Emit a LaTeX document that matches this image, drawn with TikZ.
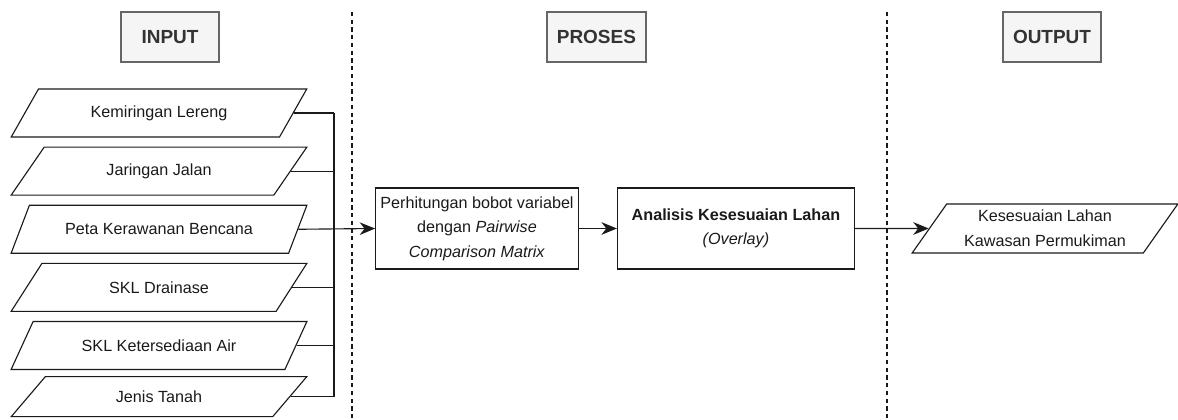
\documentclass[tikz,border=0pt]{standalone}
\usepackage{fontspec}
\setmainfont{Liberation Sans}
\usetikzlibrary{shapes.geometric, arrows.meta, positioning, calc}
\definecolor{HeadFill}{RGB}{245, 245, 245}
\definecolor{HeadLine}{RGB}{102, 102, 102}
\definecolor{HeadText}{RGB}{51, 51, 51}
\definecolor{InkDark}{RGB}{26, 26, 26}

\begin{document}
\begin{tikzpicture}[
        header/.style={rectangle, minimum width=2.45cm, minimum height=1.25cm, text centered, draw=HeadLine, fill=HeadFill, text=HeadText, line width=0.9pt, font=\fontsize{13.5}{16}\selectfont\bfseries},
        datain/.style={trapezium, trapezium left angle=56, trapezium right angle=124, trapezium stretches=true, minimum width=7.4cm, minimum height=1.2cm, text centered, draw=InkDark, line width=0.8pt, text=InkDark, font=\fontsize{11.5}{16.5}\selectfont},
        process/.style={rectangle, minimum height=2.025cm, align=center, draw=InkDark, line width=0.8pt, text=InkDark, font=\fontsize{11.5}{17.5}\selectfont},
        separator/.style={dash pattern=on 3pt off 2.5pt, line width=0.8pt, InkDark},
        link/.style={line width=0.8pt, InkDark},
        arrow/.style={line width=0.8pt, -{Stealth[length=11pt, width=9pt, inset=3.5pt]}, InkDark}
    ]
        \useasboundingbox (0,0) rectangle (29.45,10.475);

        % kolom
        \node (inp) [header] at (4.25,9.55) {INPUT};
        \node (pros) [header, minimum width=2.475cm] at (14.91,9.55) {PROSES};
        \node (outp) [header] at (26.3,9.55) {OUTPUT};
        \draw [separator] (8.8,10.175) -- (8.8,0);
        \draw [separator] (22.175,10.175) -- (22.175,0);

        % data input
        \node (kl) [datain] at (3.975,7.65) {Kemiringan Lereng};
        \node (jj) [datain, below=0.225cm of kl] {Jaringan Jalan};
        \node (pkb) [datain, below=0.225cm of jj] {Peta Kerawanan Bencana};
        \node (skld) [datain, below=0.225cm of pkb] {SKL Drainase};
        \node (skla) [datain, below=0.225cm of skld] {SKL Ketersediaan Air};
        \node (jt) [datain, below=0.15cm of skla, minimum height=1.0cm] {Jenis Tanah};
        \coordinate (bus) at (8.35,0);

        % proses dan output
        \node (hitung) [process, minimum width=5.05cm] at (11.925,4.7625) {Perhitungan bobot variabel\\dengan \textit{Pairwise}\\\textit{Comparison Matrix}};
        \node (analisis) [process, minimum width=5.925cm, right=0.95cm of hitung] {\textbf{Analisis Kesesuaian Lahan}\\\textit{(Overlay)}};
        \node (hasil) [datain, trapezium left angle=57, trapezium right angle=123, minimum width=6.65cm, minimum height=1.225cm, align=center, font=\fontsize{11.5}{17.8}\selectfont] at (26.125,4.7625) {Kesesuaian Lahan\\Kawasan Permukiman};

        \foreach \src in {kl, jj, skld, skla, jt}
            \draw [link] (\src.east) -- (\src.east -| bus);
        \draw [link] (kl.east -| bus) -- (jt.east -| bus);
        \draw [arrow] (pkb.east) -- (hitung.west);
        \draw [arrow] (hitung) -- (analisis);
        \draw [arrow] (analisis) -- (hasil);
    \end{tikzpicture}
\end{document}
